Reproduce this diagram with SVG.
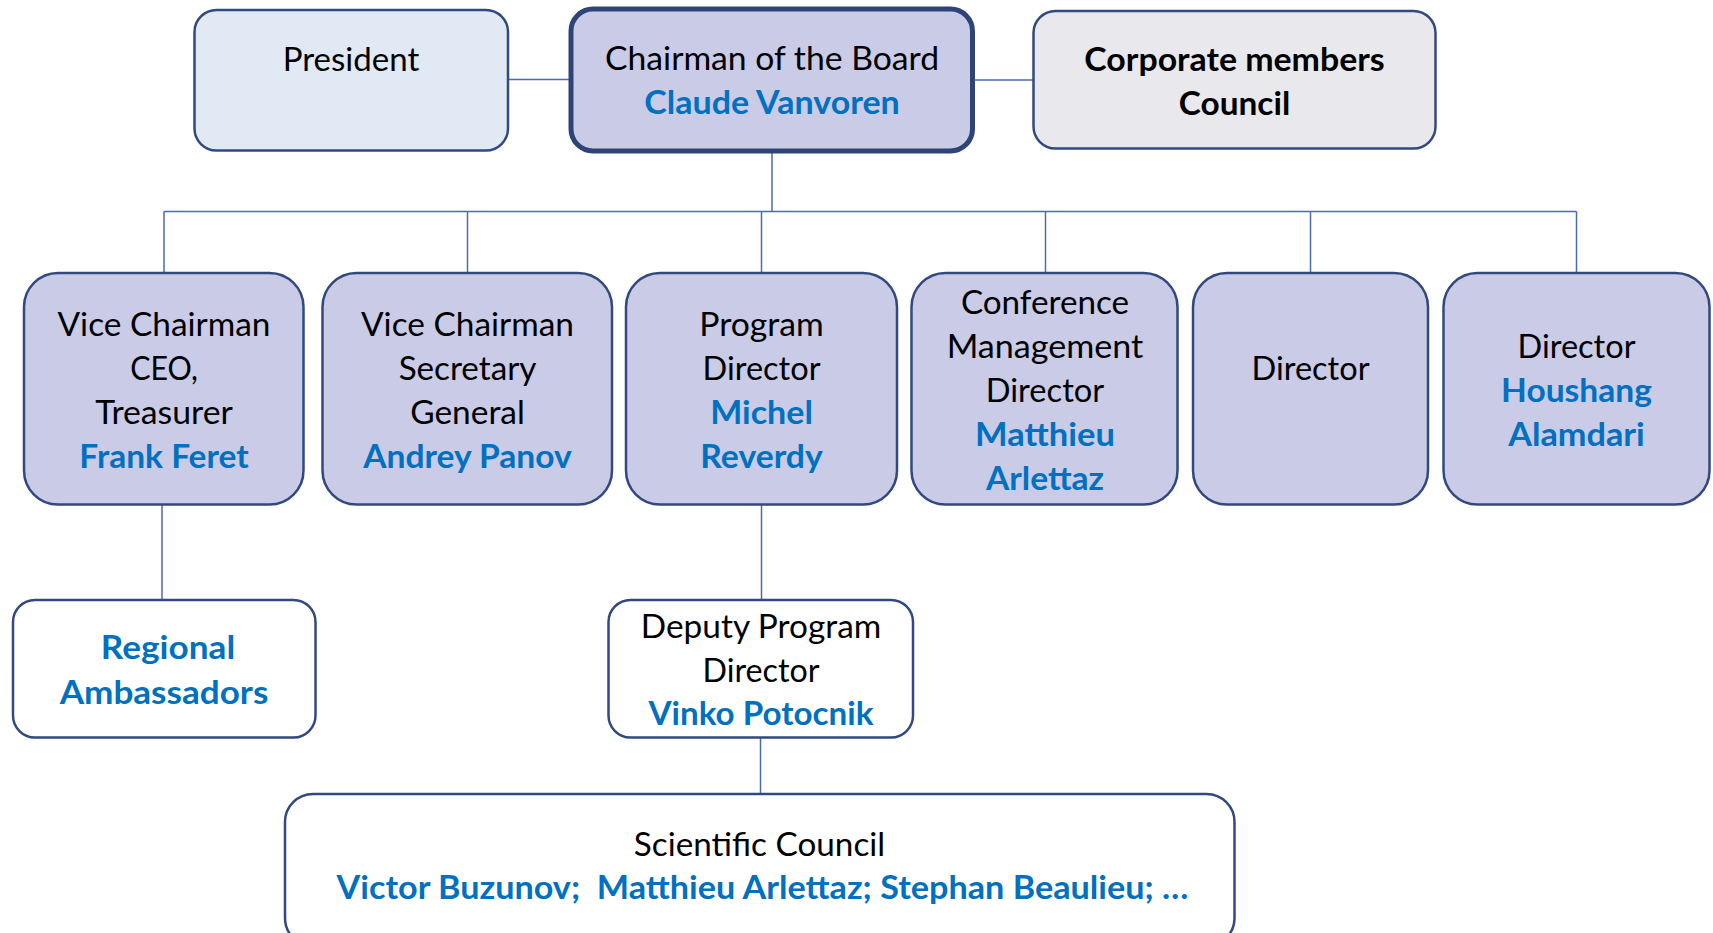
<svg xmlns="http://www.w3.org/2000/svg" width="1713" height="933" viewBox="0 0 1713 933">
<style>
.box{stroke:#32497f;stroke-width:2.5}
.lav{fill:#cacbe6}
.wh{fill:#ffffff}
.t{font-family:Lato,"Liberation Sans",sans-serif;font-size:32.5px;fill:#000;text-anchor:middle}
.b{font-family:Lato,"Liberation Sans",sans-serif;font-size:32.5px;font-weight:bold;fill:#0070c0;text-anchor:middle}
.bk{font-family:Lato,"Liberation Sans",sans-serif;font-size:32.5px;font-weight:bold;fill:#000;text-anchor:middle}
.c{stroke:#4a6ab2;stroke-width:1.5;fill:none}
</style>
<rect width="1713" height="933" fill="#ffffff"/>
<g id="connectors">
<path class="c" d="M508 79.5H570"/>
<path class="c" d="M973.5 80H1033.5"/>
<path class="c" d="M772 152V211.5"/>
<path class="c" d="M164 211.5H1576.5"/>
<path class="c" d="M164 211.5V273"/>
<path class="c" d="M467.5 211.5V273"/>
<path class="c" d="M761.5 211.5V273"/>
<path class="c" d="M1045.5 211.5V273"/>
<path class="c" d="M1310.5 211.5V273"/>
<path class="c" d="M1576.5 211.5V273"/>
<path class="c" d="M162 505V600"/>
<path class="c" d="M761.5 505V600"/>
<path class="c" d="M760.5 737.5V794"/>
</g>
<g id="president">
<rect class="box" x="194.5" y="10" width="313.5" height="140.5" rx="22" fill="#e0e9f4"/>
<text class="t" x="351" y="70.5" textLength="136.6" lengthAdjust="spacingAndGlyphs">President</text>
</g>
<g id="chairman">
<rect x="571" y="9" width="401.5" height="142" rx="22" fill="#cacbe6" stroke="#2f4476" stroke-width="5"/>
<text class="t" x="772" y="70" textLength="334" lengthAdjust="spacingAndGlyphs">Chairman of the Board</text>
<text class="b" x="772" y="113.5" textLength="255.6" lengthAdjust="spacingAndGlyphs">Claude Vanvoren</text>
</g>
<g id="corporate">
<rect class="box" x="1033.5" y="11" width="402" height="137.5" rx="22" fill="#e9e8ed"/>
<text class="bk" x="1234.5" y="70.5" textLength="300.4" lengthAdjust="spacingAndGlyphs">Corporate members</text>
<text class="bk" x="1234.5" y="114.5" textLength="111.4" lengthAdjust="spacingAndGlyphs">Council</text>
</g>
<g id="vice-chairman-ceo">
<rect class="box lav" x="24" y="273" width="279.5" height="231.5" rx="34"/>
<text class="t" x="164" y="336" textLength="213" lengthAdjust="spacingAndGlyphs">Vice Chairman</text>
<text class="t" x="164" y="380" textLength="67.7" lengthAdjust="spacingAndGlyphs">CEO,</text>
<text class="t" x="164" y="424" textLength="137.7" lengthAdjust="spacingAndGlyphs">Treasurer</text>
<text class="b" x="164" y="468" textLength="169.3" lengthAdjust="spacingAndGlyphs">Frank Feret</text>
</g>
<g id="vice-chairman-secretary">
<rect class="box lav" x="322.5" y="273" width="289.5" height="231.5" rx="34"/>
<text class="t" x="467.5" y="336" textLength="213" lengthAdjust="spacingAndGlyphs">Vice Chairman</text>
<text class="t" x="467.5" y="380" textLength="137.7" lengthAdjust="spacingAndGlyphs">Secretary</text>
<text class="t" x="467.5" y="424" textLength="114.7" lengthAdjust="spacingAndGlyphs">General</text>
<text class="b" x="467.5" y="468" textLength="208.7" lengthAdjust="spacingAndGlyphs">Andrey Panov</text>
</g>
<g id="program-director">
<rect class="box lav" x="626" y="273" width="271" height="231.5" rx="34"/>
<text class="t" x="761.5" y="336" textLength="124.5" lengthAdjust="spacingAndGlyphs">Program</text>
<text class="t" x="761.5" y="380" textLength="118" lengthAdjust="spacingAndGlyphs">Director</text>
<text class="b" x="761.5" y="424" textLength="102.7" lengthAdjust="spacingAndGlyphs">Michel</text>
<text class="b" x="761.5" y="468" textLength="122.4" lengthAdjust="spacingAndGlyphs">Reverdy</text>
</g>
<g id="conference-director">
<rect class="box lav" x="911.5" y="273" width="266" height="231.5" rx="34"/>
<text class="t" x="1045" y="314" textLength="168.2" lengthAdjust="spacingAndGlyphs">Conference</text>
<text class="t" x="1045" y="358" textLength="196.7" lengthAdjust="spacingAndGlyphs">Management</text>
<text class="t" x="1045" y="402" textLength="118.5" lengthAdjust="spacingAndGlyphs">Director</text>
<text class="b" x="1045" y="446" textLength="139.8" lengthAdjust="spacingAndGlyphs">Matthieu</text>
<text class="b" x="1045" y="490" textLength="118" lengthAdjust="spacingAndGlyphs">Arlettaz</text>
</g>
<g id="director">
<rect class="box lav" x="1193" y="273" width="235" height="231.5" rx="34"/>
<text class="t" x="1310.5" y="380" textLength="118" lengthAdjust="spacingAndGlyphs">Director</text>
</g>
<g id="director-alamdari">
<rect class="box lav" x="1443.5" y="273" width="266" height="231.5" rx="34"/>
<text class="t" x="1576.5" y="358" textLength="118" lengthAdjust="spacingAndGlyphs">Director</text>
<text class="b" x="1576.5" y="402" textLength="150.8" lengthAdjust="spacingAndGlyphs">Houshang</text>
<text class="b" x="1576.5" y="446" textLength="136.6" lengthAdjust="spacingAndGlyphs">Alamdari</text>
</g>
<g id="regional-ambassadors">
<rect class="box wh" x="13" y="600" width="302.5" height="137.5" rx="22"/>
<text class="b" x="168" y="659" textLength="134.4" lengthAdjust="spacingAndGlyphs">Regional</text>
<text class="b" x="164" y="704" textLength="208.7" lengthAdjust="spacingAndGlyphs">Ambassadors</text>
</g>
<g id="deputy-program-director">
<rect class="box wh" x="608.5" y="600" width="304.5" height="137.5" rx="22"/>
<text class="t" x="761" y="638" textLength="240.4" lengthAdjust="spacingAndGlyphs">Deputy Program</text>
<text class="t" x="761" y="682" textLength="117" lengthAdjust="spacingAndGlyphs">Director</text>
<text class="b" x="761" y="725" textLength="225" lengthAdjust="spacingAndGlyphs">Vinko Potocnik</text>
</g>
<g id="scientific-council">
<rect class="box wh" x="285" y="794" width="949.5" height="152" rx="28"/>
<text class="t" x="759.5" y="856" textLength="251.3" lengthAdjust="spacingAndGlyphs">Scientific Council</text>
<text class="b" x="762.5" y="899" textLength="852" lengthAdjust="spacingAndGlyphs" xml:space="preserve">Victor Buzunov;  Matthieu Arlettaz; Stephan Beaulieu; …</text>
</g>
</svg>
